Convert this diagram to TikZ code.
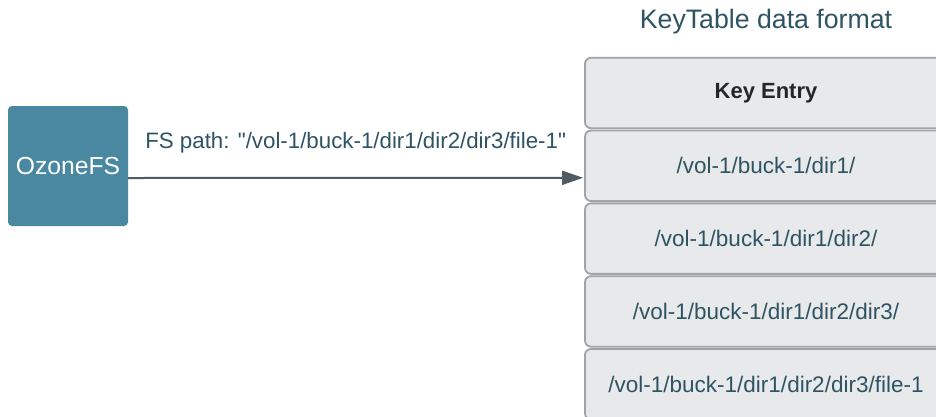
\documentclass[tikz,border=0pt]{standalone}
\usepackage{fontspec}
\setmainfont{Liberation Sans}
\usetikzlibrary{positioning, arrows.meta}
\definecolor{ozoneblue}{HTML}{4A88A2}
\definecolor{rowfill}{HTML}{E8E9EB}
\definecolor{rowborder}{HTML}{9FA4A9}
\definecolor{rowtext}{HTML}{2E5464}
\definecolor{arrowgray}{HTML}{505C63}

\begin{document}
\begin{tikzpicture}[x=1pt, y=-1pt, node distance=72.8pt, on grid,
    client/.style={fill=ozoneblue, rounded corners=4pt, minimum width=120pt, minimum height=120pt,
        text=white, font=\fontsize{24.7}{28}\selectfont},
    entry/.style={draw=rowborder, line width=1.8pt, fill=rowfill, rounded corners=6pt,
        minimum width=362pt, minimum height=70.5pt, text=rowtext, font=\fontsize{22.5}{26}\selectfont}]
    \clip (0,0) rectangle (936,416);
    \node[client] (ozone) at (68,166) {OzoneFS};
    \node[text=rowtext, font=\fontsize{26.7}{30}\selectfont] (title) at (766,22) {KeyTable data format};
    \node[entry, text=black!85, font=\fontsize{22}{26}\selectfont\bfseries] (e0) at (766,93) {Key Entry};
    \node[entry] (e1) [below=of e0] {/vol-1/buck-1/dir1/};
    \node[entry] (e2) [below=of e1] {/vol-1/buck-1/dir1/dir2/};
    \node[entry] (e3) [below=of e2] {/vol-1/buck-1/dir1/dir2/dir3/};
    \node[entry] (e4) [below=of e3] {/vol-1/buck-1/dir1/dir2/dir3/file-1};

    \draw[-{Triangle[length=21pt, width=14pt]}, arrowgray, line width=2pt]
        ([yshift=-12pt]ozone.east) -- node[above=20pt, text=rowtext, font=\fontsize{22.3}{26}\selectfont]
        {FS path: \textquotedbl/vol-1/buck-1/dir1/dir2/dir3/file-1\textquotedbl} ([yshift=-12pt, xshift=-1pt]e1.west);
\end{tikzpicture}
\end{document}
